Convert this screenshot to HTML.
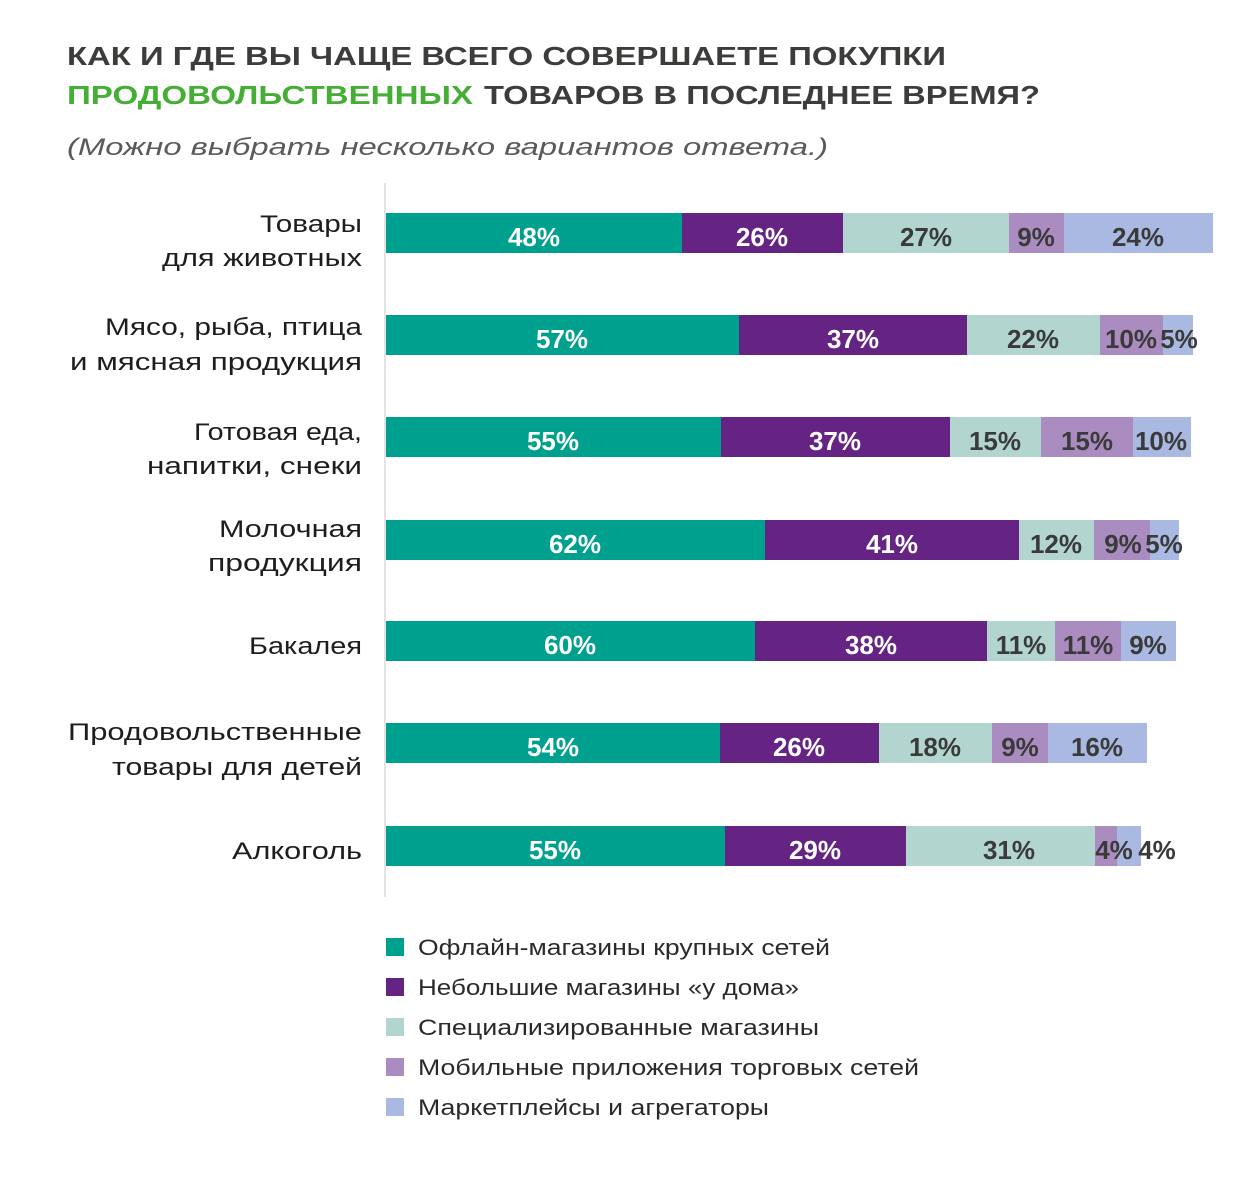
<!DOCTYPE html>
<html>
<head>
<meta charset="utf-8">
<style>
  html,body{margin:0;padding:0;background:#fff;}
  svg{display:block;}
  .t{font-family:"Liberation Sans","Noto Sans CJK SC",sans-serif;}
</style>
</head>
<body>
<svg width="1260" height="1181" viewBox="0 0 1260 1181" xmlns="http://www.w3.org/2000/svg" class="t">
  <rect width="1260" height="1181" fill="#fff"/>
  <!-- Title -->
  <text x="67" y="65" font-size="26" font-weight="bold" fill="#3c3c3b" textLength="879" lengthAdjust="spacingAndGlyphs" font-family="Liberation Sans, sans-serif">КАК И ГДЕ ВЫ ЧАЩЕ ВСЕГО СОВЕРШАЕТЕ ПОКУПКИ</text>
  <text x="67" y="104" font-size="26" font-weight="bold" fill="#45ae34" textLength="406" lengthAdjust="spacingAndGlyphs" font-family="Liberation Sans, sans-serif">ПРОДОВОЛЬСТВЕННЫХ</text>
  <text x="484" y="104" font-size="26" font-weight="bold" fill="#3c3c3b" textLength="556" lengthAdjust="spacingAndGlyphs" font-family="Liberation Sans, sans-serif">ТОВАРОВ В ПОСЛЕДНЕЕ ВРЕМЯ?</text>
  <text x="67" y="155" font-size="24" font-style="italic" fill="#5a5a5a" textLength="761" lengthAdjust="spacingAndGlyphs" font-family="Liberation Sans, sans-serif">(Можно выбрать несколько вариантов ответа.)</text>

  <!-- Axis line -->
  <rect x="384" y="183" width="2" height="714" fill="#e3e3e3"/>

  <!-- Category labels -->
  <g font-size="24" fill="#1d1d1b" font-family="Liberation Sans, sans-serif">
    <text x="260" y="232" textLength="102" lengthAdjust="spacingAndGlyphs">Товары</text>
    <text x="162" y="266" textLength="200" lengthAdjust="spacingAndGlyphs">для животных</text>
    <text x="105" y="335" textLength="257" lengthAdjust="spacingAndGlyphs">Мясо, рыба, птица</text>
    <text x="70" y="370" textLength="292" lengthAdjust="spacingAndGlyphs">и мясная продукция</text>
    <text x="194" y="440" textLength="168" lengthAdjust="spacingAndGlyphs">Готовая еда,</text>
    <text x="147" y="474" textLength="215" lengthAdjust="spacingAndGlyphs">напитки, снеки</text>
    <text x="219" y="537" textLength="143" lengthAdjust="spacingAndGlyphs">Молочная</text>
    <text x="208" y="571" textLength="154" lengthAdjust="spacingAndGlyphs">продукция</text>
    <text x="249" y="654" textLength="113" lengthAdjust="spacingAndGlyphs">Бакалея</text>
    <text x="68" y="740" textLength="294" lengthAdjust="spacingAndGlyphs">Продовольственные</text>
    <text x="112" y="775" textLength="250" lengthAdjust="spacingAndGlyphs">товары для детей</text>
    <text x="232" y="859" textLength="130" lengthAdjust="spacingAndGlyphs">Алкоголь</text>
  </g>

  <!-- Bars -->
  <rect x="386" y="213" width="296" height="40" fill="#00a08f"/>
  <rect x="682" y="213" width="161" height="40" fill="#652383"/>
  <rect x="843" y="213" width="166" height="40" fill="#b2d6cf"/>
  <rect x="1009" y="213" width="55" height="40" fill="#ab8cc1"/>
  <rect x="1064" y="213" width="149" height="40" fill="#a9b9e1"/>

  <rect x="386" y="315" width="353" height="40" fill="#00a08f"/>
  <rect x="739" y="315" width="228" height="40" fill="#652383"/>
  <rect x="967" y="315" width="133" height="40" fill="#b2d6cf"/>
  <rect x="1100" y="315" width="63" height="40" fill="#ab8cc1"/>
  <rect x="1163" y="315" width="30" height="40" fill="#a9b9e1"/>

  <rect x="386" y="417" width="335" height="40" fill="#00a08f"/>
  <rect x="721" y="417" width="229" height="40" fill="#652383"/>
  <rect x="950" y="417" width="91" height="40" fill="#b2d6cf"/>
  <rect x="1041" y="417" width="92" height="40" fill="#ab8cc1"/>
  <rect x="1133" y="417" width="58" height="40" fill="#a9b9e1"/>

  <rect x="386" y="520" width="379" height="40" fill="#00a08f"/>
  <rect x="765" y="520" width="254" height="40" fill="#652383"/>
  <rect x="1019" y="520" width="75" height="40" fill="#b2d6cf"/>
  <rect x="1094" y="520" width="56" height="40" fill="#ab8cc1"/>
  <rect x="1150" y="520" width="29" height="40" fill="#a9b9e1"/>

  <rect x="386" y="621" width="369" height="40" fill="#00a08f"/>
  <rect x="755" y="621" width="232" height="40" fill="#652383"/>
  <rect x="987" y="621" width="68" height="40" fill="#b2d6cf"/>
  <rect x="1055" y="621" width="66" height="40" fill="#ab8cc1"/>
  <rect x="1121" y="621" width="55" height="40" fill="#a9b9e1"/>

  <rect x="386" y="723" width="334" height="40" fill="#00a08f"/>
  <rect x="720" y="723" width="159" height="40" fill="#652383"/>
  <rect x="879" y="723" width="113" height="40" fill="#b2d6cf"/>
  <rect x="992" y="723" width="56" height="40" fill="#ab8cc1"/>
  <rect x="1048" y="723" width="99" height="40" fill="#a9b9e1"/>

  <rect x="386" y="826" width="339" height="40" fill="#00a08f"/>
  <rect x="725" y="826" width="181" height="40" fill="#652383"/>
  <rect x="906" y="826" width="189" height="40" fill="#b2d6cf"/>
  <rect x="1095" y="826" width="22" height="40" fill="#ab8cc1"/>
  <rect x="1117" y="826" width="24" height="40" fill="#a9b9e1"/>

  <!-- Bar labels -->
  <g font-size="26" font-weight="bold" text-anchor="middle" font-family="Liberation Sans, sans-serif">
    <g fill="#ffffff">
      <text x="534" y="246">48%</text>
      <text x="762" y="246">26%</text>
      <text x="562" y="348">57%</text>
      <text x="853" y="348">37%</text>
      <text x="553" y="450">55%</text>
      <text x="835" y="450">37%</text>
      <text x="575" y="553">62%</text>
      <text x="892" y="553">41%</text>
      <text x="570" y="654">60%</text>
      <text x="871" y="654">38%</text>
      <text x="553" y="756">54%</text>
      <text x="799" y="756">26%</text>
      <text x="555" y="859">55%</text>
      <text x="815" y="859">29%</text>
    </g>
    <g fill="#3a3a3a">
      <text x="926" y="246">27%</text>
      <text x="1036" y="246">9%</text>
      <text x="1138" y="246">24%</text>
      <text x="1033" y="348">22%</text>
      <text x="1131" y="348">10%</text>
      <text x="1179" y="348">5%</text>
      <text x="995" y="450">15%</text>
      <text x="1087" y="450">15%</text>
      <text x="1161" y="450">10%</text>
      <text x="1056" y="553">12%</text>
      <text x="1123" y="553">9%</text>
      <text x="1164" y="553">5%</text>
      <text x="1021" y="654">11%</text>
      <text x="1088" y="654">11%</text>
      <text x="1148" y="654">9%</text>
      <text x="935" y="756">18%</text>
      <text x="1020" y="756">9%</text>
      <text x="1097" y="756">16%</text>
      <text x="1009" y="859">31%</text>
      <text x="1114" y="859">4%</text>
      <text x="1157" y="859">4%</text>
    </g>
  </g>

  <!-- Legend -->
  <rect x="386" y="938" width="18" height="18" fill="#00a08f"/>
  <rect x="386" y="978" width="18" height="18" fill="#652383"/>
  <rect x="386" y="1018" width="18" height="18" fill="#b2d6cf"/>
  <rect x="386" y="1058" width="18" height="18" fill="#ab8cc1"/>
  <rect x="386" y="1098" width="18" height="18" fill="#a9b9e1"/>
  <g font-size="22" fill="#2a2a2a" font-family="Liberation Sans, sans-serif">
    <text x="418" y="955" textLength="412" lengthAdjust="spacingAndGlyphs">Офлайн-магазины крупных сетей</text>
    <text x="418" y="995" textLength="381" lengthAdjust="spacingAndGlyphs">Небольшие магазины «у дома»</text>
    <text x="418" y="1035" textLength="401" lengthAdjust="spacingAndGlyphs">Специализированные магазины</text>
    <text x="418" y="1075" textLength="501" lengthAdjust="spacingAndGlyphs">Мобильные приложения торговых сетей</text>
    <text x="418" y="1115" textLength="351" lengthAdjust="spacingAndGlyphs">Маркетплейсы и агрегаторы</text>
  </g>
</svg>
</body>
</html>
